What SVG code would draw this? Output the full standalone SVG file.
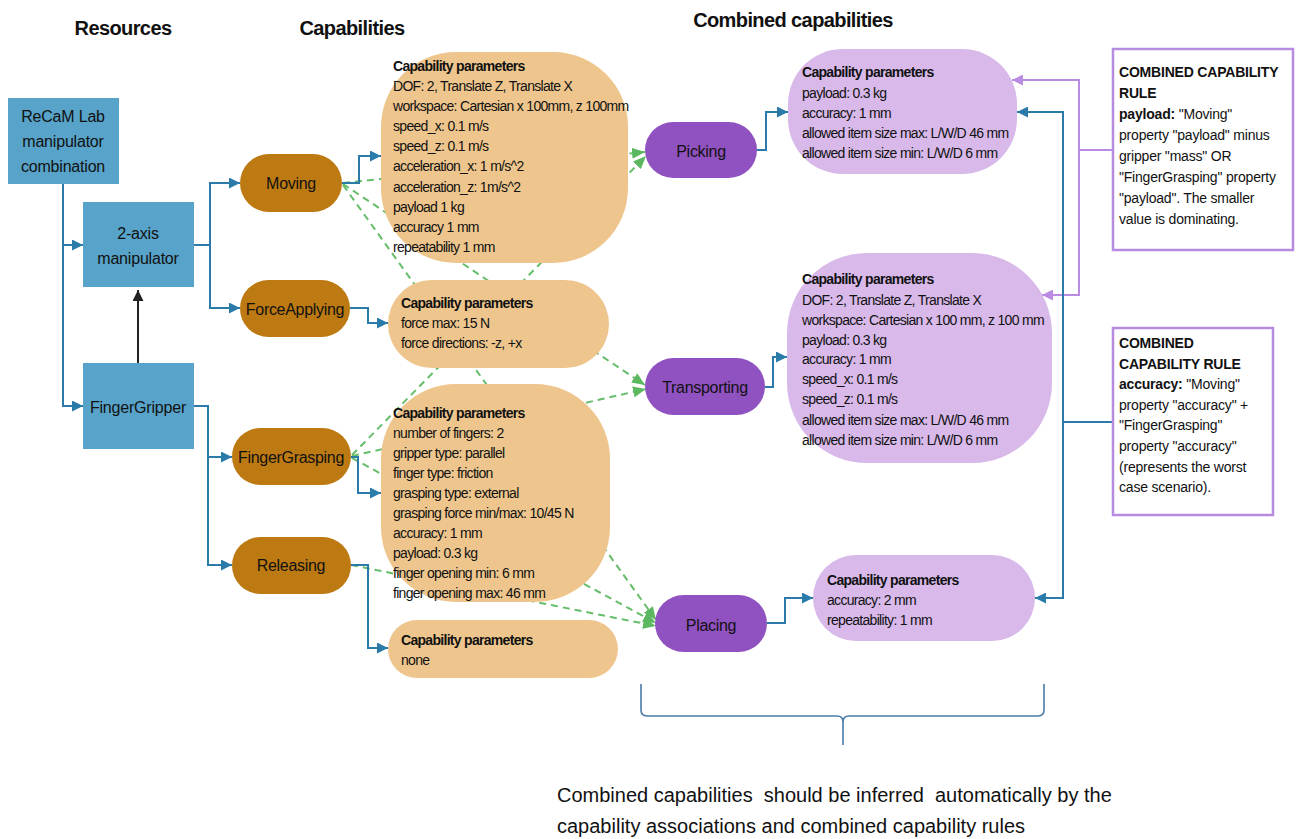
<svg xmlns="http://www.w3.org/2000/svg" width="1300" height="839" viewBox="0 0 1300 839">
<style>
text{font-family:"Liberation Sans",Arial,sans-serif;fill:#111}
.hdr{font-size:20px;font-weight:bold;letter-spacing:-0.6px;text-anchor:middle}
.res{fill:#57A3C9}
.rt{font-size:16px;text-anchor:middle;letter-spacing:-0.2px}
.cap{fill:#BE7A12}
.par{fill:#EEC68D}
.cmb{fill:#9152C1}
.cpar{fill:#D8B9EA}
.nt{font-size:16px;text-anchor:middle;letter-spacing:-0.3px}
.pt{font-size:14px;letter-spacing:-0.7px}
.b{font-weight:bold}
.rule{fill:#fff;stroke:#B68BE0;stroke-width:2.5}
.rlt{font-size:14px;letter-spacing:-0.2px}
.blue{fill:none;stroke:#2A7AAA;stroke-width:2}
.green{fill:none;stroke:#66BD6A;stroke-width:2;stroke-dasharray:7 5}
.purp{fill:none;stroke:#B98BE2;stroke-width:2}
.blk{fill:none;stroke:#222;stroke-width:2}
.brace{fill:none;stroke:#4A7BA8;stroke-width:1.6}
.foot{font-size:20px;white-space:pre}
</style>
<defs>
<marker id="ab" markerUnits="userSpaceOnUse" markerWidth="11" markerHeight="11" refX="11" refY="5.5" orient="auto"><path d="M0,0 L11,5.5 L0,11 z" fill="#2A7AAA"/></marker>
<marker id="ag" markerUnits="userSpaceOnUse" markerWidth="13" markerHeight="11" refX="13" refY="5.5" orient="auto"><path d="M0,0 L13,5.5 L0,11 z" fill="#5CB860"/></marker>
<marker id="ap" markerUnits="userSpaceOnUse" markerWidth="11" markerHeight="11" refX="11" refY="5.5" orient="auto"><path d="M0,0 L11,5.5 L0,11 z" fill="#B98BE2"/></marker>
<marker id="ak" markerUnits="userSpaceOnUse" markerWidth="11" markerHeight="11" refX="11" refY="5.5" orient="auto"><path d="M0,0 L11,5.5 L0,11 z" fill="#222"/></marker>
</defs>
<rect width="1300" height="839" fill="#fff"/>

<g id="headers">
<text class="hdr" x="123" y="35">Resources</text>
<text class="hdr" x="352" y="35">Capabilities</text>
<text class="hdr" x="793" y="27">Combined capabilities</text>
</g>

<g id="connectors">
<path class="green" d="M343,183 L645,152" marker-end="url(#ag)"/>
<path class="green" d="M352,455 L646,156" marker-end="url(#ag)"/>
<path class="green" d="M343,184 L645,385" marker-end="url(#ag)"/>
<path class="green" d="M352,456 L646,389" marker-end="url(#ag)"/>
<path class="green" d="M343,185 L656,620" marker-end="url(#ag)"/>
<path class="green" d="M352,458 L656,623" marker-end="url(#ag)"/>
<path class="green" d="M351,565 L656,626" marker-end="url(#ag)"/>
<path class="blue" d="M63,184 V406 H83" marker-end="url(#ab)"/>
<path class="blue" d="M63,245 H83" marker-end="url(#ab)"/>
<path class="blue" d="M194,245 H210 V183 H240" marker-end="url(#ab)"/>
<path class="blue" d="M210,245 V308 H240" marker-end="url(#ab)"/>
<path class="blue" d="M194,406 H208 V457 H232" marker-end="url(#ab)"/>
<path class="blue" d="M208,457 V565 H232" marker-end="url(#ab)"/>
<path class="blk" d="M138,363 V290" marker-end="url(#ak)"/>
<path class="blue" d="M342,183 H359 V156 H381" marker-end="url(#ab)"/>
<path class="blue" d="M350,308 H368 V323 H388" marker-end="url(#ab)"/>
<path class="blue" d="M351,457 H358 V493 H381" marker-end="url(#ab)"/>
<path class="blue" d="M351,565 H368 V648 H388" marker-end="url(#ab)"/>
<path class="blue" d="M757,150 H766 V112 H788" marker-end="url(#ab)"/>
<path class="blue" d="M765,387 H773 V357 H787" marker-end="url(#ab)"/>
<path class="blue" d="M767,623 H785 V598 H813" marker-end="url(#ab)"/>
<path class="purp" d="M1113,150 H1079"/>
<path class="purp" d="M1079,150 V80 H1012" marker-end="url(#ap)"/>
<path class="purp" d="M1079,150 V295 H1042" marker-end="url(#ap)"/>
<path class="blue" d="M1113,422 H1063"/>
<path class="blue" d="M1063,422 V112 H1017" marker-end="url(#ab)"/>
<path class="blue" d="M1063,422 V598 H1035" marker-end="url(#ab)"/>
<path class="brace" d="M641,684 V710 Q641,716 647,716 H837 Q843,716 843,722 V745 M843,722 Q843,716 849,716 H1038 Q1044,716 1044,710 V684"/>
</g>

<g id="recam">
<rect class="res" x="8" y="98" width="111" height="86"/>
<text class="rt" x="63" y="122">ReCaM Lab</text>
<text class="rt" x="63" y="147">manipulator</text>
<text class="rt" x="63" y="172">combination</text>
</g>
<g id="two-axis">
<rect class="res" x="83" y="202" width="111" height="85"/>
<text class="rt" x="138" y="239">2-axis</text>
<text class="rt" x="138" y="264">manipulator</text>
</g>
<g id="fingergripper">
<rect class="res" x="83" y="363" width="111" height="86"/>
<text class="rt" x="138" y="413">FingerGripper</text>
</g>

<g id="moving">
<rect class="cap" x="240" y="154" width="102" height="58" rx="29"/>
<text class="nt" x="291" y="189">Moving</text>
</g>
<g id="forceapplying">
<rect class="cap" x="240" y="280" width="110" height="57" rx="28.5"/>
<text class="nt" x="295" y="315">ForceApplying</text>
</g>
<g id="fingergrasping">
<rect class="cap" x="232" y="428" width="119" height="57" rx="28.5"/>
<text class="nt" x="291" y="463">FingerGrasping</text>
</g>
<g id="releasing">
<rect class="cap" x="232" y="537" width="119" height="57" rx="28.5"/>
<text class="nt" x="291" y="571">Releasing</text>
</g>

<g id="moving-params">
<rect class="par" x="381" y="52" width="247" height="211" rx="75"/>
<text class="pt" x="393"><tspan class="b" x="393" y="71">Capability parameters</tspan><tspan x="393" y="91">DOF: 2, Translate Z, Translate X</tspan><tspan x="393" y="111">workspace: Cartesian x 100mm, z 100mm</tspan><tspan x="393" y="131">speed_x: 0.1 m/s</tspan><tspan x="393" y="151">speed_z: 0.1 m/s</tspan><tspan x="393" y="171">acceleration_x: 1 m/s^2</tspan><tspan x="393" y="192">acceleration_z: 1m/s^2</tspan><tspan x="393" y="212">payload 1 kg</tspan><tspan x="393" y="232">accuracy 1 mm</tspan><tspan x="393" y="252">repeatability 1 mm</tspan></text>
</g>
<g id="force-params">
<rect class="par" x="388" y="280" width="221" height="88" rx="44"/>
<text class="pt" x="401"><tspan class="b" x="401" y="308">Capability parameters</tspan><tspan x="401" y="328">force max: 15 N</tspan><tspan x="401" y="348">force directions: -z, +x</tspan></text>
</g>
<g id="grasping-params">
<rect class="par" x="381" y="384" width="229" height="218" rx="75"/>
<text class="pt" x="393"><tspan class="b" x="393" y="418">Capability parameters</tspan><tspan x="393" y="438">number of fingers: 2</tspan><tspan x="393" y="458">gripper type: parallel</tspan><tspan x="393" y="478">finger type: friction</tspan><tspan x="393" y="498">grasping type: external</tspan><tspan x="393" y="518">grasping force min/max: 10/45 N</tspan><tspan x="393" y="538">accuracy: 1 mm</tspan><tspan x="393" y="558">payload: 0.3 kg</tspan><tspan x="393" y="578">finger opening min: 6 mm</tspan><tspan x="393" y="598">finger opening max: 46 mm</tspan></text>
</g>
<g id="releasing-params">
<rect class="par" x="388" y="620" width="230" height="58" rx="29"/>
<text class="pt" x="401"><tspan class="b" x="401" y="645">Capability parameters</tspan><tspan x="401" y="665">none</tspan></text>
</g>

<g id="picking">
<rect class="cmb" x="645" y="122" width="112" height="56" rx="28"/>
<text class="nt" x="701" y="157">Picking</text>
</g>
<g id="transporting">
<rect class="cmb" x="645" y="358" width="120" height="57" rx="28.5"/>
<text class="nt" x="705" y="393">Transporting</text>
</g>
<g id="placing">
<rect class="cmb" x="655" y="595" width="112" height="57" rx="28.5"/>
<text class="nt" x="711" y="631">Placing</text>
</g>

<g id="picking-params">
<rect class="cpar" x="788" y="49" width="229" height="125" rx="55"/>
<text class="pt" x="802"><tspan class="b" x="802" y="77">Capability parameters</tspan><tspan x="802" y="98">payload: 0.3 kg</tspan><tspan x="802" y="118">accuracy: 1 mm</tspan><tspan x="802" y="138">allowed item size max: L/W/D 46 mm</tspan><tspan x="802" y="158">allowed item size min: L/W/D 6 mm</tspan></text>
</g>
<g id="transporting-params">
<rect class="cpar" x="787" y="253" width="265" height="210" rx="80"/>
<text class="pt" x="802"><tspan class="b" x="802" y="284">Capability parameters</tspan><tspan x="802" y="305">DOF: 2, Translate Z, Translate X</tspan><tspan x="802" y="325">workspace: Cartesian x 100 mm, z 100 mm</tspan><tspan x="802" y="345">payload: 0.3 kg</tspan><tspan x="802" y="364">accuracy: 1 mm</tspan><tspan x="802" y="384">speed_x: 0.1 m/s</tspan><tspan x="802" y="404">speed_z: 0.1 m/s</tspan><tspan x="802" y="425">allowed item size max: L/W/D 46 mm</tspan><tspan x="802" y="445">allowed item size min: L/W/D 6 mm</tspan></text>
</g>
<g id="placing-params">
<rect class="cpar" x="813" y="555" width="222" height="86" rx="43"/>
<text class="pt" x="827"><tspan class="b" x="827" y="585">Capability parameters</tspan><tspan x="827" y="605">accuracy: 2 mm</tspan><tspan x="827" y="625">repeatability: 1 mm</tspan></text>
</g>

<g id="rule-payload">
<rect class="rule" x="1113" y="49" width="180" height="201"/>
<text class="rlt" x="1119"><tspan class="b" x="1119" y="77">COMBINED CAPABILITY</tspan><tspan class="b" x="1119" y="98">RULE</tspan><tspan x="1119" y="119"><tspan class="b">payload:</tspan> "Moving"</tspan><tspan x="1119" y="140">property "payload" minus</tspan><tspan x="1119" y="161">gripper "mass" OR</tspan><tspan x="1119" y="182">"FingerGrasping" property</tspan><tspan x="1119" y="203">"payload". The smaller</tspan><tspan x="1119" y="224">value is dominating.</tspan></text>
</g>
<g id="rule-accuracy">
<rect class="rule" x="1113" y="328" width="160" height="187"/>
<text class="rlt" x="1119"><tspan class="b" x="1119" y="348">COMBINED</tspan><tspan class="b" x="1119" y="369">CAPABILITY RULE</tspan><tspan x="1119" y="389"><tspan class="b">accuracy:</tspan> "Moving"</tspan><tspan x="1119" y="410">property "accuracy" +</tspan><tspan x="1119" y="430">"FingerGrasping"</tspan><tspan x="1119" y="451">property "accuracy"</tspan><tspan x="1119" y="472">(represents the worst</tspan><tspan x="1119" y="492">case scenario).</tspan></text>
</g>

<g id="footnote">
<text class="foot" x="557" y="802">Combined capabilities  should be inferred  automatically by the</text>
<text class="foot" x="557" y="833">capability associations and combined capability rules</text>
</g>
</svg>
